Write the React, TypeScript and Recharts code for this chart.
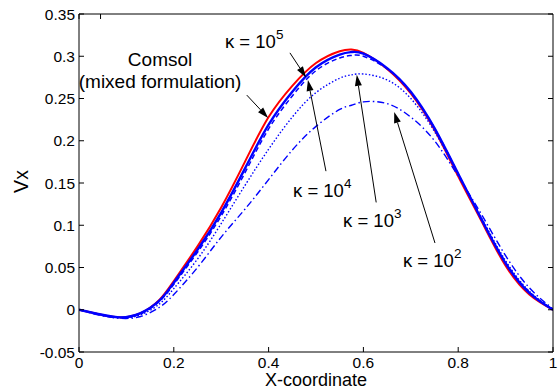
import { LineChart, Line, XAxis, YAxis, ReferenceLine, ReferenceDot } from 'recharts';

// x positions along the domain
const xCoord = [0, 0.04, 0.085, 0.13, 0.17, 0.2, 0.25, 0.3, 0.35, 0.4, 0.45, 0.5, 0.55, 0.575, 0.6, 0.65, 0.7, 0.75, 0.8, 0.85, 0.9, 0.95, 1];

// Vx values
const comsol = [0, -0.005, -0.009, -0.004, 0.012, 0.034, 0.075, 0.121, 0.175, 0.228, 0.265, 0.292, 0.306, 0.308, 0.304, 0.285, 0.256, 0.213, 0.158, 0.104, 0.052, 0.018, 0];
const kappa1e5 = [0, -0.005, -0.009, -0.004, 0.011, 0.032, 0.071, 0.115, 0.167, 0.219, 0.258, 0.287, 0.302, 0.305, 0.303, 0.286, 0.258, 0.215, 0.161, 0.106, 0.055, 0.02, 0];
const kappa1e4 = [0, -0.005, -0.009, -0.005, 0.01, 0.03, 0.068, 0.111, 0.162, 0.214, 0.253, 0.283, 0.298, 0.301, 0.3, 0.285, 0.257, 0.215, 0.161, 0.107, 0.056, 0.021, 0];
const kappa1e3 = [0, -0.005, -0.0095, -0.006, 0.007, 0.025, 0.06, 0.102, 0.147, 0.19, 0.228, 0.257, 0.274, 0.278, 0.279, 0.272, 0.25, 0.211, 0.16, 0.108, 0.058, 0.022, 0];
const kappa1e2 = [0, -0.006, -0.01, -0.008, 0.003, 0.018, 0.05, 0.086, 0.119, 0.154, 0.189, 0.217, 0.237, 0.242, 0.246, 0.244, 0.228, 0.2, 0.158, 0.112, 0.064, 0.026, 0.001];

const xTicks = [0, 0.2, 0.4, 0.6, 0.8, 1];
const yTicks = [-0.05, 0, 0.05, 0.1, 0.15, 0.2, 0.25, 0.3, 0.35];

// annotation arrows, tail -> tip, in data units
const arrows = [
  { from: [0.354, 0.254], to: [0.399, 0.227] },
  { from: [0.445, 0.304], to: [0.479, 0.275] },
  { from: [0.521, 0.164], to: [0.483, 0.272] },
  { from: [0.627, 0.127], to: [0.586, 0.278] },
  { from: [0.751, 0.079], to: [0.665, 0.234] },
];

// kappa labels: left edge / baseline in data units
const kappaLabels = [
  { x: 0.308, y: 0.31, exp: '5' },
  { x: 0.4515, y: 0.134, exp: '4' },
  { x: 0.557, y: 0.098, exp: '3' },
  { x: 0.6835, y: 0.0506, exp: '2' },
];

const comsolLabel = [
  { x: 0.171, y: 0.288, text: 'Comsol' },
  { x: 0.171, y: 0.2624, text: '(mixed formulation)' },
];

const data = xCoord.map((x, i) => ({
  x,
  comsol: comsol[i],
  k5: kappa1e5[i],
  k4: kappa1e4[i],
  k3: kappa1e3[i],
  k2: kappa1e2[i],
}));

const FONT = 'Liberation Sans, Arial, Helvetica, sans-serif';

const BottomTick = ({ x, y, payload }: any) => (
  <g>
    <line x1={x} x2={x} y1={y} y2={y - 5} stroke="#000" />
    <text x={x} y={y + 16} textAnchor="middle" fontSize={15.5} fontFamily={FONT} fill="#000">
      {String(payload.value)}
    </text>
  </g>
);

const LeftTick = ({ x, y, payload }: any) => (
  <g>
    <line x1={x} x2={x + 5} y1={y} y2={y} stroke="#000" />
    <text x={x - 4} y={y + 5.5} textAnchor="end" fontSize={15.5} fontFamily={FONT} fill="#000">
      {String(payload.value)}
    </text>
  </g>
);

const TopTick = ({ x, y }: any) => <line x1={x} x2={x} y1={y} y2={y + 5} stroke="#000" />;
const RightTick = ({ x, y }: any) => <line x1={x} x2={x - 5} y1={y} y2={y} stroke="#000" />;

const arrowShape = (p: any) => {
  const { x1, y1, x2, y2 } = p;
  const ang = Math.atan2(y2 - y1, x2 - x1);
  const len = 11;
  const hw = 3.5;
  const bx = x2 - len * Math.cos(ang);
  const by = y2 - len * Math.sin(ang);
  const nx = -Math.sin(ang) * hw;
  const ny = Math.cos(ang) * hw;
  return (
    <g>
      <line x1={x1} y1={y1} x2={bx} y2={by} stroke="#000" strokeWidth={1} />
      <polygon points={`${x2},${y2} ${bx + nx},${by + ny} ${bx - nx},${by - ny}`} fill="#000" />
    </g>
  );
};

export default function App() {
  return (
    <div style={{ position: 'absolute', left: 0, top: 0, background: '#fff' }}>
      <LineChart width={559} height={390} data={data} margin={{ top: 0, right: 0, bottom: 0, left: 0 }}>
        <XAxis
          dataKey="x"
          type="number"
          domain={[0, 1]}
          ticks={xTicks}
          height={38}
          tickSize={0}
          tickMargin={0}
          tick={<BottomTick />}
          axisLine={{ stroke: '#000' }}
          allowDataOverflow
          label={{ value: 'X-coordinate', position: 'insideBottom', offset: 4, fontSize: 18, fontFamily: FONT, fill: '#000' }}
        />
        <XAxis
          xAxisId="top"
          orientation="top"
          type="number"
          domain={[0, 1]}
          ticks={xTicks}
          height={14}
          tickSize={0}
          tickMargin={0}
          tick={<TopTick />}
          axisLine={{ stroke: '#000' }}
          allowDataOverflow
        />
        <YAxis
          type="number"
          domain={[-0.05, 0.35]}
          ticks={yTicks}
          width={79}
          tickSize={0}
          tickMargin={0}
          tick={<LeftTick />}
          axisLine={{ stroke: '#000' }}
          allowDataOverflow
          label={{
            content: (props: any) => {
              const vb = props.viewBox;
              const cx = vb.x + 28;
              const cy = vb.y + vb.height / 2 - 1.5;
              return (
                <text transform={`translate(${cx},${cy}) rotate(-90)`} textAnchor="middle" fontSize={19.5} fontFamily={FONT} fill="#000">
                  Vx
                </text>
              );
            },
          }}
        />
        <YAxis
          yAxisId="right"
          orientation="right"
          type="number"
          domain={[-0.05, 0.35]}
          ticks={yTicks}
          width={6}
          tickSize={0}
          tickMargin={0}
          tick={<RightTick />}
          axisLine={{ stroke: '#000' }}
          allowDataOverflow
        />
        <Line dataKey="comsol" stroke="#ff0000" strokeWidth={2} dot={false} type="natural" isAnimationActive={false} />
        <Line dataKey="k2" stroke="#0000ff" strokeWidth={1.4} strokeDasharray="7 3 1.5 3" dot={false} type="natural" isAnimationActive={false} />
        <Line dataKey="k3" stroke="#0000ff" strokeWidth={1.4} strokeDasharray="1.5 2" dot={false} type="natural" isAnimationActive={false} />
        <Line dataKey="k4" stroke="#0000ff" strokeWidth={1.5} strokeDasharray="5 3" dot={false} type="natural" isAnimationActive={false} />
        <Line dataKey="k5" stroke="#0000ff" strokeWidth={2.4} dot={false} type="natural" isAnimationActive={false} />
        {arrows.map((a, i) => (
          <ReferenceLine
            key={`arrow-${i}`}
            segment={[{ x: a.from[0], y: a.from[1] }, { x: a.to[0], y: a.to[1] }]}
            shape={arrowShape}
            ifOverflow="visible"
          />
        ))}
        {comsolLabel.map((l, i) => (
          <ReferenceDot
            key={`comsol-${i}`}
            x={l.x}
            y={l.y}
            ifOverflow="visible"
            shape={(p: any) => (
              <text x={p.cx} y={p.cy} textAnchor="middle" fontSize={19} fontFamily={FONT} fill="#000">
                {l.text}
              </text>
            )}
          />
        ))}
        {kappaLabels.map((l, i) => (
          <ReferenceDot
            key={`kappa-${i}`}
            x={l.x}
            y={l.y}
            ifOverflow="visible"
            shape={(p: any) => (
              <text x={p.cx} y={p.cy} textAnchor="start" fontSize={18.5} fontFamily={FONT} fill="#000">
                κ = 10
                <tspan dy={-9} fontSize={13.5}>{l.exp}</tspan>
              </text>
            )}
          />
        ))}
      </LineChart>
    </div>
  );
}
